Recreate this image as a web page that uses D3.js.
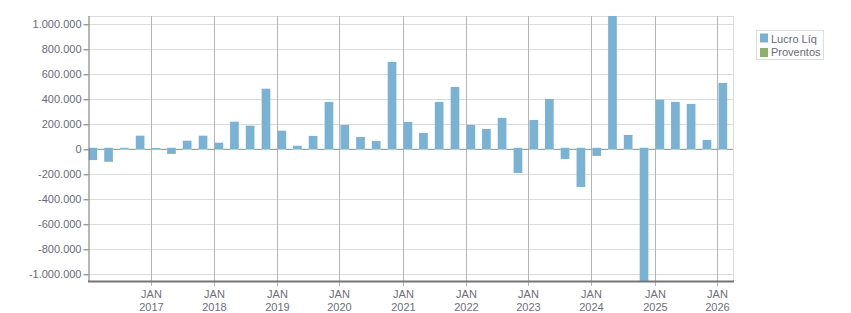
<!DOCTYPE html>
<html><head><meta charset="utf-8">
<script src="https://cdn.jsdelivr.net/npm/d3@7"></script>
<style>
html,body{margin:0;padding:0;background:#fff;}
svg{display:block;font-family:"Liberation Sans",Arial,sans-serif;}
</style></head>
<body>
<svg id="chart" width="851" height="313"></svg>
<script>
// quarters Q1 2016 .. Q1 2026 (start month of each quarter)
const quarters = [];
for (let yr = 2016; yr <= 2026; yr++) for (let q = 0; q < 4; q++) { if (yr === 2026 && q > 0) break; quarters.push(new Date(yr, q * 3, 1)); }
const lucroLiq = [-86000, -100000, 12000, 109000, 10000, -37000, 69000, 109000, 53000, 221000, 189000, 485000,
  149000, 28000, 107000, 379000, 195000, 99000, 67000, 699000, 219000, 131000, 379000, 499000,
  195000, 163000, 251000, -189000, 235000, 403000, -77000, -301000, -53000, 1150000, 115000, -1150000,
  397000, 379000, 363000, 75000, 531000];
const proventos = quarters.map(() => 0);
const yTickValues = [-1000000, -800000, -600000, -400000, -200000, 0, 200000, 400000, 600000, 800000, 1000000];
const xTickYears = [2017, 2018, 2019, 2020, 2021, 2022, 2023, 2024, 2025, 2026];
const seriesNames = ["Lucro Líq", "Proventos"];
const seriesColors = ["#7ab2d4", "#8cb16c"];

(function () {
const svg = d3.select("#chart");
const mLeft = 88.5, mRight = 733, mTop = 16, mBottom = 281;
const x = d3.scaleTime().domain([new Date(2016, 0, 1), new Date(2026, 3, 1)]).range([mLeft, 734]);
const y = d3.scaleLinear().domain([-1053600, 1066400]).range([mBottom, mTop]);
const locale = d3.formatLocale({decimal: ",", thousands: ".", grouping: [3], currency: ["", ""], minus: "-"});
const fmt = locale.format(",d");
const gx0 = d => Math.round(x(d)) - 0.5;

// horizontal gridlines
svg.append("g").selectAll("line").data(yTickValues).join("line")
  .attr("x1", mLeft).attr("x2", mRight)
  .attr("y1", d => Math.round(y(d)) + 0.5).attr("y2", d => Math.round(y(d)) + 0.5)
  .attr("stroke", "#dcdcdc").attr("stroke-width", 1);
// top and right border
svg.append("line").attr("x1", mLeft).attr("x2", mRight + 0.5).attr("y1", mTop + 0.5).attr("y2", mTop + 0.5).attr("stroke", "#dcdcdc");
svg.append("line").attr("x1", mRight + 0.5).attr("x2", mRight + 0.5).attr("y1", mTop).attr("y2", mBottom).attr("stroke", "#dcdcdc");
// vertical year gridlines
const yearDates = xTickYears.map(yr => new Date(yr, 0, 1));
svg.append("g").selectAll("line").data(yearDates).join("line")
  .attr("x1", gx0).attr("x2", gx0)
  .attr("y1", mTop).attr("y2", mBottom + 5)
  .attr("stroke", "#b4b4b4").attr("stroke-width", 1);

// bars
svg.append("clipPath").attr("id", "clip").append("rect")
  .attr("x", mLeft).attr("y", mTop).attr("width", mRight - mLeft).attr("height", mBottom - mTop);
const barW = 8.7;
const gBars = svg.append("g").attr("clip-path", "url(#clip)");
const y0 = y(0);
// proventos (zero-valued) occupy the slot after each Lucro bar
gBars.selectAll("rect.prov").data(quarters).join("rect").attr("class", "prov")
  .attr("x", d => x(d) + barW)
  .attr("width", d => { const next = d3.timeMonth.offset(d, 3); return x(next) - x(d) - barW; })
  .attr("y", (d, i) => Math.min(y(proventos[i]), y0) - 0.5)
  .attr("height", (d, i) => Math.max(1.2, Math.abs(y(proventos[i]) - y0)))
  .attr("fill", seriesColors[1]);
gBars.selectAll("rect.lucro").data(quarters).join("rect").attr("class", "lucro")
  .attr("x", d => x(d))
  .attr("width", barW)
  .attr("y", (d, i) => lucroLiq[i] >= 0 ? y(lucroLiq[i]) : y0 - 1.5)
  .attr("height", (d, i) => lucroLiq[i] >= 0 ? Math.max(1.5, y0 - y(lucroLiq[i])) : y(lucroLiq[i]) - y0 + 1.5)
  .attr("fill", seriesColors[0]);

// y axis
const yAxis = d3.axisLeft(y).tickValues(yTickValues).tickFormat(fmt).tickSize(5).tickPadding(2);
const gy = svg.append("g").attr("transform", `translate(${mLeft},0)`).call(yAxis);
gy.select(".domain").attr("stroke", "#707070").attr("d", `M0.5,${mTop}V${mBottom}`);
gy.selectAll(".tick line").attr("stroke", "#707070");
gy.selectAll(".tick text").attr("fill", "#6a6a78").style("font-size", "11px").attr("font-family", "Liberation Sans, Arial, sans-serif");

// x axis line
svg.append("line").attr("x1", mLeft - 0.5).attr("x2", mRight + 1).attr("y1", mBottom + 0.5).attr("y2", mBottom + 0.5)
  .attr("stroke", "#747474").attr("stroke-width", 2);
// x labels
const gx = svg.append("g").selectAll("text").data(yearDates).join("text")
  .attr("x", gx0)
  .attr("text-anchor", "middle").attr("fill", "#6e6e78").style("font-size", "11px");
gx.append("tspan").attr("x", gx0).attr("y", 298).text("JAN");
gx.append("tspan").attr("x", gx0).attr("y", 311).text(d => d.getFullYear());

// legend
const lg = svg.append("g");
lg.append("rect").attr("x", 756.5).attr("y", 30.5).attr("width", 67).attr("height", 29)
  .attr("fill", "#fff").attr("stroke", "#dedede");
seriesNames.forEach((n, i) => {
  lg.append("rect").attr("x", 760).attr("y", 33.5 + i * 14.5).attr("width", 8).attr("height", 9).attr("fill", seriesColors[i]);
  lg.append("text").attr("x", 771).attr("y", 42.5 + i * 13).attr("fill", "#6a6a78").style("font-size", "11px").text(n);
});
})();
</script>
</body></html>
